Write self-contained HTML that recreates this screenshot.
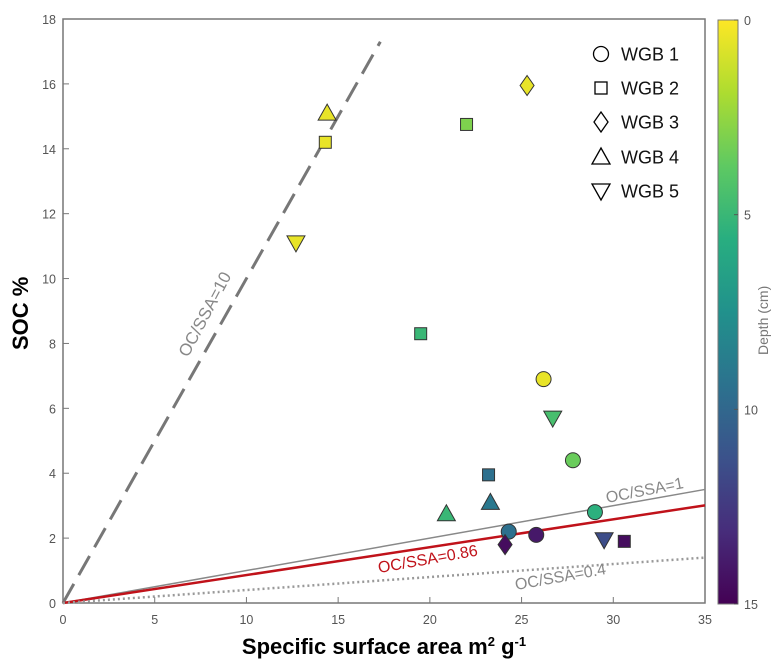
<!DOCTYPE html>
<html><head><meta charset="utf-8">
<style>
body{margin:0;background:#fff;}
svg{display:block;font-family:"Liberation Sans",sans-serif;}
</style></head>
<body>
<svg id="chart" width="776" height="672" viewBox="0 0 776 672">
<defs>
<linearGradient id="vir" x1="0" y1="1" x2="0" y2="0">
<stop offset="0" stop-color="#440154"/><stop offset="0.125" stop-color="#472d7b"/><stop offset="0.25" stop-color="#3b528b"/><stop offset="0.375" stop-color="#2c728e"/><stop offset="0.5" stop-color="#21918c"/><stop offset="0.625" stop-color="#28ae80"/><stop offset="0.75" stop-color="#5ec962"/><stop offset="0.875" stop-color="#addc30"/><stop offset="1" stop-color="#fde725"/>
</linearGradient>
</defs>
<g id="g"></g>
</svg>
<script>
const xTicks=[0,5,10,15,20,25,30,35];
const yTicks=[0,2,4,6,8,10,12,14,16,18];
const cTicks=[0,5,10,15];
const wgb1X=[26.2,27.8,29.0,24.3,25.8], wgb1Y=[6.9,4.4,2.8,2.2,2.1], wgb1D=[0.5,3.5,5.5,9.5,14];
const wgb2X=[14.3,22.0,19.5,23.2,30.6], wgb2Y=[14.2,14.75,8.3,3.95,1.9], wgb2D=[0.5,3,5,9.5,14.5];
const wgb3X=[25.3,24.1], wgb3Y=[15.95,1.8], wgb3D=[0.5,14.5];
const wgb4X=[14.4,20.9,23.3], wgb4Y=[15.1,2.75,3.1], wgb4D=[0.5,5,9];
const wgb5X=[12.7,26.7,29.5], wgb5Y=[11.1,5.7,1.95], wgb5D=[0.5,4.5,11.5];
const ratios=[10,1,0.86,0.4];

const L=63,R=705,T=19,B=603;
const sx=v=>L+v/35*(R-L), sy=v=>B-v/18*(B-T);
const NS='http://www.w3.org/2000/svg';
const g=document.getElementById('g');
function mk(t,a,p){const e=document.createElementNS(NS,t);for(const k in a)e.setAttribute(k,a[k]);(p||g).appendChild(e);return e;}
const vs=[[68,1,84],[71,45,123],[59,82,139],[44,114,142],[33,145,140],[40,174,128],[94,201,98],[173,220,48],[253,231,37]];
function vir(d){let t=1-d/15;t=Math.max(0,Math.min(1,t))*8;const i=Math.min(7,Math.floor(t)),f=t-i;const c=vs[i].map((v,k)=>Math.round(v+(vs[i+1][k]-v)*f));return `rgb(${c})`;}

let e=mk('rect',{x:L,y:T,width:R-L,height:B-T,fill:'#fff',stroke:'#777','stroke-width':1.5});


xTicks.forEach(v=>{mk('line',{x1:sx(v),x2:sx(v),y1:B,y2:B-6,stroke:'#777'});
 e=mk('text',{x:sx(v),y:B+21,'text-anchor':'middle','font-size':12.5,fill:'#555'});e.textContent=v;
 
 });
yTicks.forEach(v=>{mk('line',{x1:L,x2:L+6,y1:sy(v),y2:sy(v),stroke:'#777'});
 e=mk('text',{x:L-7,y:sy(v)+5,'text-anchor':'end','font-size':12.5,fill:'#555'});e.textContent=v;
 
 });
const styles={10:{stroke:'#777','stroke-width':3,'stroke-dasharray':'22 10'},1:{stroke:'#888','stroke-width':1.5},0.86:{stroke:'#c0121a','stroke-width':2.5},0.4:{stroke:'#999','stroke-width':2.5,'stroke-dasharray':'2 3'}};
ratios.forEach(r=>{const xe=r===10?17.3:35;const a=Object.assign({x1:sx(0),y1:sy(0),x2:sx(xe),y2:sy(xe*r/10)},styles[r]);
 e=mk('line',a);
 });
function lab(txt,x,y,ang,col,fs,name){e=mk('text',{x:x,y:y,'font-size':fs,fill:col,transform:`rotate(${ang} ${x} ${y})`});e.textContent=txt;
 
 }
lab('OC/SSA=10',188,358,-62,'#888',17,'label-ratio-10');
lab('OC/SSA=1',607,503,-11,'#888',16,'label-ratio-1');
lab('OC/SSA=0.86',379,573,-10,'#c0121a',16,'label-ratio-086');
lab('OC/SSA=0.4',516,590,-10,'#888',16,'label-ratio-04');
function marker(shape,x,y,col,p){let el;
 if(shape==='o')el=mk('circle',{cx:x,cy:y,r:7.5},p);
 else if(shape==='s')el=mk('rect',{x:x-6,y:y-6,width:12,height:12},p);
 else if(shape==='d')el=mk('polygon',{points:`${x},${y-10} ${x+7},${y} ${x},${y+10} ${x-7},${y}`},p);
 else if(shape==='^')el=mk('polygon',{points:`${x},${y-9} ${x+9},${y+7} ${x-9},${y+7}`},p);
 else el=mk('polygon',{points:`${x},${y+9} ${x+9},${y-7} ${x-9},${y-7}`},p);
 el.setAttribute('fill',col);el.setAttribute('stroke','#333');el.setAttribute('stroke-width',1);return el;}
[[wgb1X,wgb1Y,wgb1D,'o',1],[wgb2X,wgb2Y,wgb2D,'s',2],[wgb3X,wgb3Y,wgb3D,'d',3],[wgb4X,wgb4Y,wgb4D,'^',4],[wgb5X,wgb5Y,wgb5D,'v',5]].forEach(([X,Y,D,sh,n])=>{
 X.forEach((xv,i)=>{e=marker(sh,sx(xv),sy(Y[i]),vir(D[i]));
 
 });});
const legNames=['WGB 1','WGB 2','WGB 3','WGB 4','WGB 5'],legShapes=['o','s','d','^','v'],legY=[54,88,122,157,191];
legNames.forEach((nm,i)=>{e=marker(legShapes[i],601,legY[i],'#fff');e.setAttribute('stroke','#000');e.setAttribute('stroke-width',1.3);
 
 
 e=mk('text',{x:621,y:legY[i]+6.5,'font-size':18,fill:'#111'});e.textContent=nm;
 
 });
e=mk('rect',{x:718,y:T+1,width:20,height:B-T,fill:'url(#vir)',stroke:'#777'});


cTicks.forEach(v=>{const y=T+1+v/15*(B-T);mk('line',{x1:734,x2:738,y1:y,y2:y,stroke:'#555'});
 e=mk('text',{x:744,y:y+5,'font-size':12.5,fill:'#555'});e.textContent=v;
 
 });
lab('Depth (cm)',768,355,-90,'#777',14,'colorbar-title');
e=mk('text',{x:384,y:654,'text-anchor':'middle','font-size':22,'font-weight':'bold',fill:'#000'});
e.innerHTML='Specific surface area m<tspan font-size="13" dy="-8">2</tspan><tspan dy="8"> g</tspan><tspan font-size="13" dy="-8">-1</tspan>';


lab('SOC %',28,350,-90,'#000',22,'y-axis-title');
g.lastChild.setAttribute('font-weight','bold');
</script>
</body></html>
